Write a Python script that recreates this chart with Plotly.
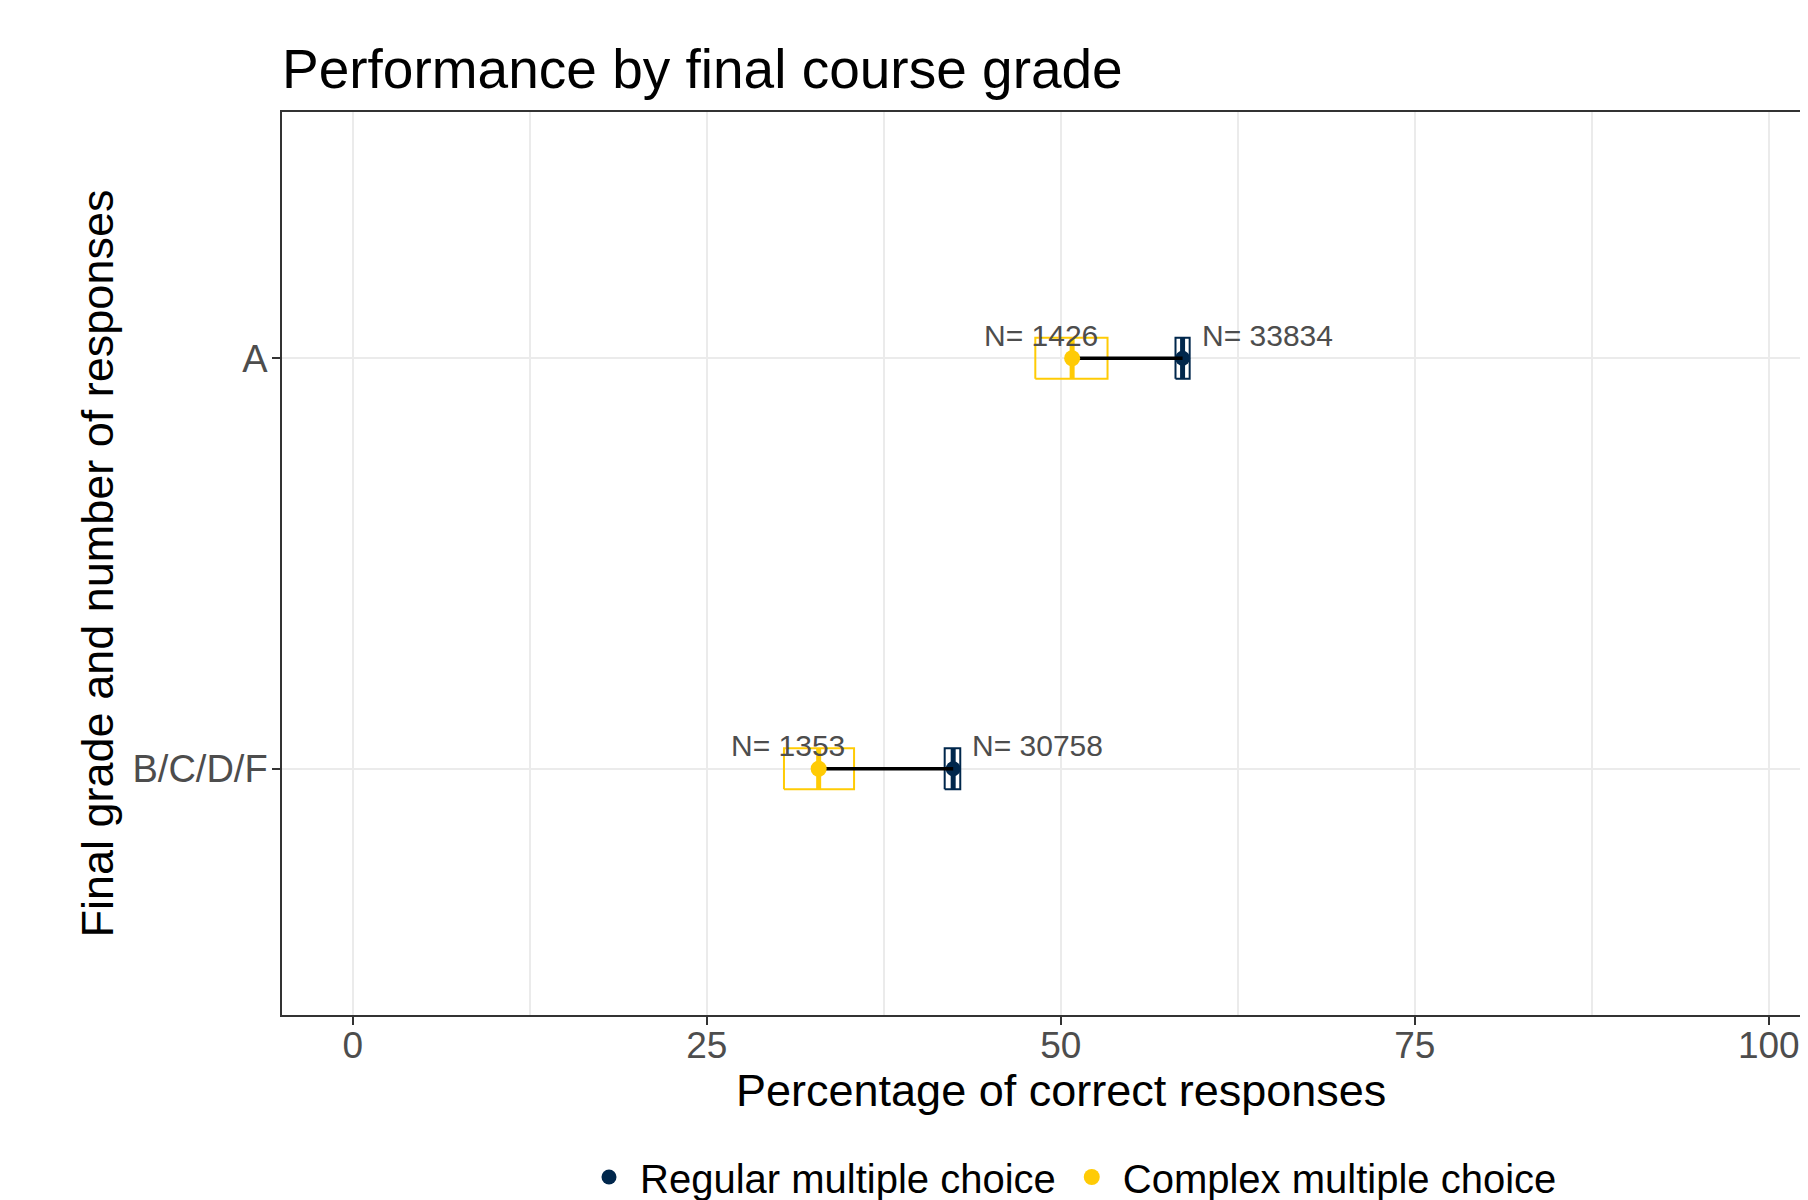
import plotly.graph_objects as go

# ---- data ----
grades = ["A", "B/C/D/F"]
grade_pos = [2, 1]
regular_mean = [58.6, 42.4]
regular_lo = [58.1, 41.8]
regular_hi = [59.1, 42.9]
complex_mean = [50.8, 32.9]
complex_lo = [48.2, 30.45]
complex_hi = [53.3, 35.4]
regular_n = [33834, 30758]
complex_n = [1426, 1353]
x_ticks = [0, 25, 50, 75, 100]

NAVY = "#00274C"
MAIZE = "#FFCB05"
FONT = "Liberation Sans, Arial, sans-serif"
HALF = 0.05  # half height of crossbar

# layout geometry (figure pixels)
L, T, B = 274, 104, 193
PW, PH = 1808 - L, 1200 - T - B


def box_path(lo, hi, ys):
    xs, yv = [], []
    for a, b, y in zip(lo, hi, ys):
        xs += [a, b, b, a, a, None]
        yv += [y - HALF, y - HALF, y + HALF, y + HALF, y - HALF, None]
    return xs, yv


def mid_path(m, ys):
    xs, yv = [], []
    for a, y in zip(m, ys):
        xs += [a, a, None]
        yv += [y - HALF, y + HALF, None]
    return xs, yv


fig = go.Figure()

for lo, hi, col in [(complex_lo, complex_hi, MAIZE), (regular_lo, regular_hi, NAVY)]:
    bx, by = box_path(lo, hi, grade_pos)
    fig.add_trace(go.Scatter(x=bx, y=by, mode="lines", line=dict(color=col, width=2),
                             showlegend=False, hoverinfo="skip"))

for m, col in [(complex_mean, MAIZE), (regular_mean, NAVY)]:
    mx, my = mid_path(m, grade_pos)
    fig.add_trace(go.Scatter(x=mx, y=my, mode="lines", line=dict(color=col, width=5),
                             showlegend=False, hoverinfo="skip"))

fig.add_trace(go.Scatter(x=regular_mean, y=grade_pos, mode="markers",
                         marker=dict(color=NAVY, size=15),
                         name="Regular multiple choice"))

sx, sy = [], []
for c, r, y in zip(complex_mean, regular_mean, grade_pos):
    sx += [c, r, None]
    sy += [y, y, None]
fig.add_trace(go.Scatter(x=sx, y=sy, mode="lines", line=dict(color="black", width=3.5),
                         showlegend=False, hoverinfo="skip"))

fig.add_trace(go.Scatter(x=complex_mean, y=grade_pos, mode="markers",
                         marker=dict(color=MAIZE, size=16),
                         name="Complex multiple choice"))

annotations = []
for c, r, y, cn, rn in zip(complex_mean, regular_mean, grade_pos, complex_n, regular_n):
    annotations.append(dict(x=c + 2.0, y=y, xref="x", yref="y", text=f"N= {cn}",
                            showarrow=False, xanchor="right", yanchor="middle", yshift=23,
                            font=dict(size=30, color="#4D4D4D", family=FONT)))
    annotations.append(dict(x=r + 1.2, y=y, xref="x", yref="y", text=f"N= {rn}",
                            showarrow=False, xanchor="left", yanchor="middle", yshift=23,
                            font=dict(size=30, color="#4D4D4D", family=FONT)))

annotations.append(dict(x=50, y=(T + PH - 1082) / PH, xref="x", yref="paper",
                        text="Percentage of correct responses", showarrow=False,
                        xanchor="center", yanchor="middle",
                        font=dict(size=45, color="black", family=FONT)))
annotations.append(dict(x=(89 - L) / PW, y=0.5, xref="paper", yref="paper",
                        text="Final grade and number of responses", showarrow=False,
                        textangle=-90, xanchor="center", yanchor="middle",
                        font=dict(size=45, color="black", family=FONT)))

fig.update_layout(
    width=1808, height=1200,
    margin=dict(l=L, r=0, t=T, b=B, autoexpand=False),
    paper_bgcolor="white", plot_bgcolor="white",
    font=dict(family=FONT, color="black"),
    title=dict(text="Performance by final course grade", x=0, xref="paper", xanchor="left",
               y=1 - 61 / 1200, yref="container", yanchor="middle",
               font=dict(size=55, color="black", family=FONT)),
    xaxis=dict(range=[-5, -5 + PW / 14.16], tickvals=x_ticks,
               ticktext=[str(t) for t in x_ticks],
               showgrid=True, gridcolor="#EBEBEB", gridwidth=2,
               minor=dict(tickvals=[12.5, 37.5, 62.5, 87.5], showgrid=True,
                          gridcolor="#EBEBEB", gridwidth=1.5, ticks=""),
               showline=True, linecolor="#333333", linewidth=1.5, mirror=True,
               ticks="outside", ticklen=8, tickwidth=1.5, tickcolor="#333333",
               ticklabelstandoff=-11,
               tickfont=dict(size=37, color="#4D4D4D", family=FONT), zeroline=False),
    yaxis=dict(range=[0.4, 2.6], tickvals=grade_pos, ticktext=grades,
               showgrid=True, gridcolor="#EBEBEB", gridwidth=2,
               showline=True, linecolor="#333333", linewidth=1.5, mirror=False,
               ticks="outside", ticklen=8, tickwidth=1.5, tickcolor="#333333",
               ticklabelstandoff=-3,
               tickfont=dict(size=38, color="#4D4D4D", family=FONT), zeroline=False),
    legend=dict(orientation="h", x=(1062 - L) / PW, xanchor="center",
                y=(T + PH - 1169) / PH, yanchor="middle",
                font=dict(size=40, color="black", family=FONT), itemwidth=52),
    annotations=annotations,
    showlegend=True,
)

fig.write_html("out.html")
